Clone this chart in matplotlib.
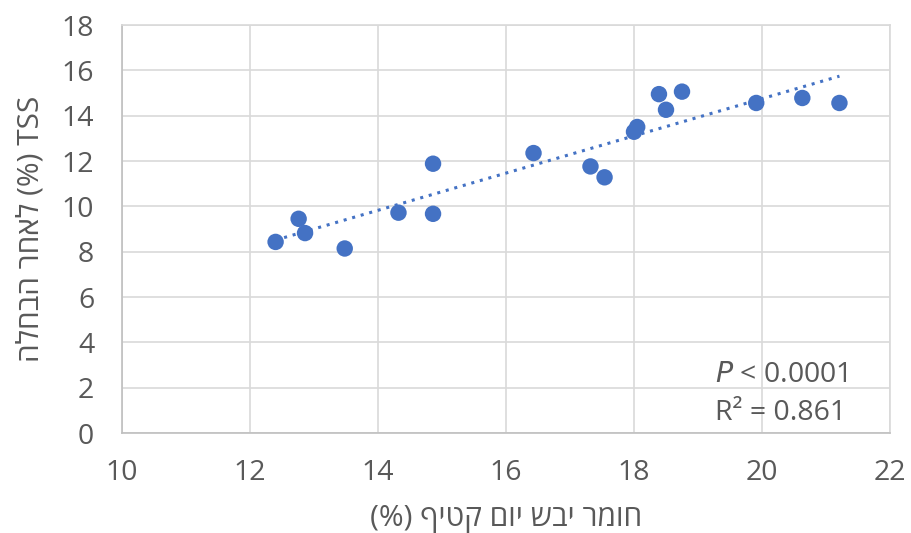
import numpy as np
import matplotlib
matplotlib.use("Agg")
import matplotlib.pyplot as plt

plt.rcParams['font.family'] = ['Open Sans', 'DejaVu Sans']

# Dry matter at harvest (%) vs TSS after softening (%)
dry_matter = [12.40, 12.76, 12.86, 13.48, 14.32, 14.86, 14.86, 16.43, 17.32,
              17.54, 18.00, 18.05, 18.39, 18.75, 18.50, 19.91, 20.63, 21.21]
tss = [8.43, 9.45, 8.82, 8.14, 9.72, 9.67, 11.88, 12.35, 11.76,
       11.28, 13.29, 13.50, 14.95, 15.06, 14.26, 14.56, 14.78, 14.56]

x_ticks = [10, 12, 14, 16, 18, 20, 22]
y_ticks = [0, 2, 4, 6, 8, 10, 12, 14, 16, 18]

x_label = "(%) ףיטק םוי שבי רמוח"
y_label = "הלחבה רחאל (%) TSS"
p_text = r"$\it{P}$ < 0.0001"
r2_text = "R² = 0.861"

blue = "#4472C4"
grid_c = "#d9d9d9"
text_c = "#595959"

fig = plt.figure(figsize=(9.12, 5.33), dpi=100)
ax = fig.add_axes([122 / 912, 1 - 433 / 533, 768 / 912, 408 / 533])

ax.set_xlim(x_ticks[0], x_ticks[-1])
ax.set_ylim(y_ticks[0], y_ticks[-1])
ax.set_xticks(x_ticks)
ax.set_yticks(y_ticks)
ax.grid(True, color=grid_c, linewidth=1.2, zorder=0)
ax.set_axisbelow(True)
for side, sp in ax.spines.items():
    sp.set_color(grid_c if side in ("top", "right") else "#bfbfbf")
    sp.set_linewidth(1.2)
ax.tick_params(length=0, labelsize=20.5, labelcolor=text_c)
ax.tick_params(axis='y', pad=20)
ax.tick_params(axis='x', pad=19)

# Linear trend line across the data range
xd = np.array(dry_matter)
slope, intercept = np.polyfit(xd, np.array(tss), 1)
xl = np.array([xd.min(), xd.max()])
ax.plot(xl, slope * xl + intercept, color=blue, linewidth=2.2,
        linestyle=(0, (1, 1.9)), zorder=2)

ax.scatter(dry_matter, tss, s=140, color=blue, edgecolors='none', zorder=3)

ax.set_xlabel(x_label, fontsize=21.5, color=text_c, labelpad=12)
ax.set_ylabel(y_label, fontsize=21.5, color=text_c, labelpad=12)

ax.text(0.859, 0.142, p_text, transform=ax.transAxes, ha='center', va='center',
        fontsize=20.5, color=text_c)
ax.text(0.857, 0.049, r2_text, transform=ax.transAxes, ha='center', va='center',
        fontsize=20.5, color=text_c)

fig.savefig("out.png", dpi=100)
